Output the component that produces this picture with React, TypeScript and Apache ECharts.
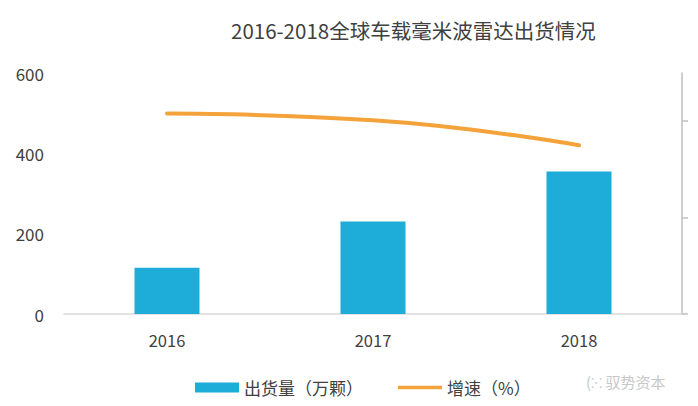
import React, { useEffect, useRef } from 'react';
import * as echarts from 'echarts';

// Dữ liệu
const years = ['2016', '2017', '2018'];
const shipments = [115, 230, 355]; // 出货量（万颗）
const growth = [208, 201, 175]; // 增速（%）
const rightTicks = [0, 100, 200];

const FONT = '"Noto Sans CJK SC", "Noto Sans", sans-serif';

const App: React.FC = () => {
    const chartRef = useRef<HTMLDivElement>(null);

    useEffect(() => {
        if (!chartRef.current) return;
        const myChart = echarts.init(chartRef.current, undefined, { renderer: 'svg' });

        const option: echarts.EChartsOption = {
            animation: false,
            backgroundColor: '#ffffff',
            textStyle: { fontFamily: FONT },
            title: {
                text: '2016-2018全球车载毫米波雷达出货情况',
                left: 231,
                top: 20,
                padding: 0,
                textStyle: { fontSize: 20.5, fontWeight: 'normal', color: '#404040', fontFamily: FONT },
            },
            grid: { left: 64, right: 16, top: 73, bottom: 92 },
            legend: {
                left: 190,
                top: 374,
                itemGap: 35,
                itemWidth: 44,
                itemHeight: 10,
                textStyle: { fontSize: 17, color: '#404040', fontFamily: FONT },
                data: [
                    { name: '出货量（万颗）', icon: 'rect' },
                    // icon mảnh cho đường, không có chấm tròn
                    { name: '增速（%）', icon: 'path://M0,0L48,0L48,4L0,4Z' },
                ],
            },
            xAxis: {
                type: 'category',
                data: years,
                axisTick: { show: false },
                axisLine: { lineStyle: { color: '#d9d9d9', width: 1.5 } },
                axisLabel: { fontSize: 16.5, color: '#404040', margin: 18, fontFamily: FONT },
            },
            yAxis: [
                {
                    type: 'value',
                    min: 0,
                    max: 600,
                    interval: 200,
                    axisLine: { show: false },
                    axisTick: { show: false },
                    splitLine: { show: false },
                    axisLabel: { fontSize: 17, color: '#404040', margin: 20, fontFamily: FONT },
                },
                {
                    type: 'value',
                    position: 'right',
                    min: 0,
                    max: 250,
                    interval: 100,
                    axisLine: { show: true, lineStyle: { color: '#bfbfbf', width: 1.5 } },
                    axisTick: {
                        show: true,
                        length: 6,
                        customValues: rightTicks,
                        lineStyle: { color: '#bfbfbf', width: 1.5 },
                    },
                    splitLine: { show: false },
                    axisLabel: { show: false },
                },
            ],
            series: [
                {
                    name: '出货量（万颗）',
                    type: 'bar',
                    data: shipments,
                    barWidth: 65,
                    itemStyle: { color: '#1eadd8' },
                },
                {
                    name: '增速（%）',
                    type: 'line',
                    yAxisIndex: 1,
                    data: growth,
                    smooth: true,
                    symbol: 'none',
                    lineStyle: { color: '#f4a23a', width: 4, cap: 'round' },
                    itemStyle: { color: '#f4a23a' },
                },
            ],
            graphic: [
                {
                    type: 'text',
                    left: 586,
                    top: 374,
                    style: {
                        text: '(⁚⁖ 驭势资本',
                        fontSize: 15,
                        fill: '#c8c8c8',
                        fontFamily: FONT,
                    },
                },
            ],
        };
        myChart.setOption(option);

        const handleResize = () => {
            myChart.resize();
        };
        window.addEventListener('resize', handleResize);
        return () => {
            window.removeEventListener('resize', handleResize);
            myChart.dispose();
        };
    }, []);

    return (
        <div
            ref={chartRef}
            style={{ position: 'fixed', left: 0, top: 0, width: '698px', height: '406px' }}
        />
    );
};

export default App;
